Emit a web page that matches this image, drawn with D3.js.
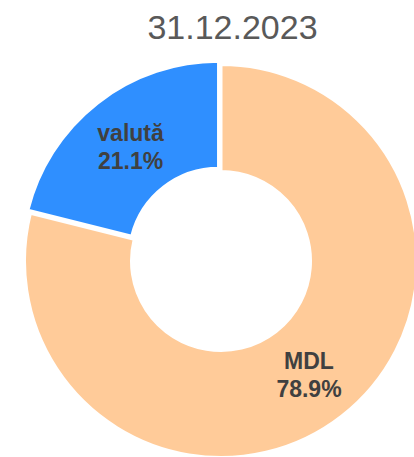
<!DOCTYPE html>
<html>
<head>
<meta charset="utf-8">
<script src="https://cdn.jsdelivr.net/npm/d3@7"></script>
<style>
  body { margin: 0; background: #fff; }
  svg { display: block; font-family: "Liberation Sans", Arial, sans-serif; }
</style>
</head>
<body>
<svg id="chart" width="414" height="457"></svg>
<script>
var title = "31.12.2023";
var categories = ["MDL", "valută"];
var values = [78.9, 21.1];
var colors = ["#FFCB99", "#2F8FFF"];
var exploded = ["valută"];

var svg = d3.select("#chart");
var cx = 221, cy = 261;
var outerR = 196.5, innerR = 89.5;

var data = categories.map(function(c, i) { return { name: c, value: values[i] }; });

var pie = d3.pie().sort(null).value(function(d) { return d.value; });
var arc = d3.arc().innerRadius(innerR).outerRadius(outerR);

// title
svg.append("text")
    .attr("x", 232.5)
    .attr("y", 39)
    .attr("text-anchor", "middle")
    .style("font-size", "34px")
    .style("fill", "#595959")
    .text(title);

var g = svg.append("g").attr("transform", "translate(" + cx + "," + cy + ")");

// pull a slice out along its middle angle
function offset(d) {
    if (exploded.indexOf(d.data.name) < 0) return [0, 0];
    var a = (d.startAngle + d.endAngle) / 2;
    return [4 * Math.sin(a), -4 * Math.cos(a)];
}

var slices = g.selectAll("g.slice")
    .data(pie(data))
    .enter()
    .append("g")
    .attr("class", "slice")
    .attr("transform", function(d) { var o = offset(d); return "translate(" + o[0] + "," + o[1] + ")"; });

slices.append("path")
    .attr("d", arc)
    .attr("fill", function(d, i) { return colors[i]; })
    .attr("stroke", "#fff")
    .attr("stroke-width", 3);

// labels
var pct = d3.format(".1f");
var lbl = slices.append("text")
    .attr("transform", function(d) { var c = arc.centroid(d); return "translate(" + c[0] + "," + c[1] + ")"; })
    .attr("text-anchor", "middle")
    .style("font-size", "23px")
    .style("font-weight", "bold")
    .style("fill", "#404040");

lbl.append("tspan")
    .attr("x", 0)
    .attr("y", -4.5)
    .text(function(d) { return d.data.name; });

lbl.append("tspan")
    .attr("x", 0)
    .attr("y", 23.5)
    .text(function(d) { return pct(d.data.value) + "%"; });
</script>
</body>
</html>
